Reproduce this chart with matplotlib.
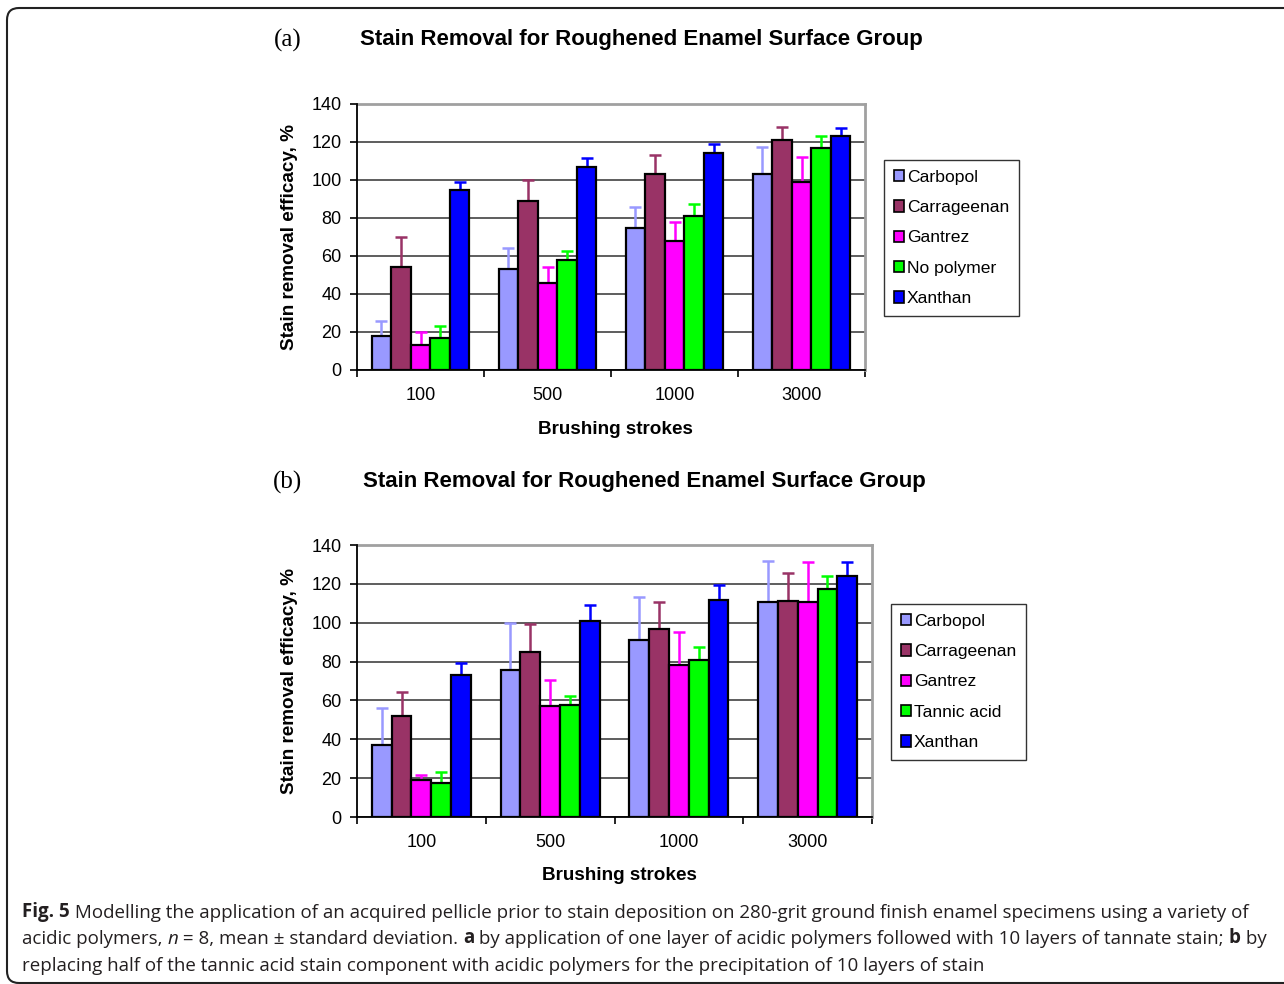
import matplotlib
matplotlib.use("Agg")
import matplotlib.pyplot as plt
import matplotlib.text as mtext
import numpy as np
from matplotlib.patches import FancyBboxPatch, Patch

# ---------------- data ----------------
strokes = ["100", "500", "1000", "3000"]

series_a = ["Carbopol", "Carrageenan", "Gantrez", "No polymer", "Xanthan"]
means_a = {
    "Carbopol":    [18, 53, 75, 103],
    "Carrageenan": [54, 89, 103, 121],
    "Gantrez":     [13, 46, 68, 99],
    "No polymer":  [17, 58, 81, 117],
    "Xanthan":     [95, 107, 114, 123],
}
sd_a = {
    "Carbopol":    [8, 11, 11, 14.5],
    "Carrageenan": [16, 11, 10, 7],
    "Gantrez":     [7, 8, 10, 13],
    "No polymer":  [6, 4.7, 6.6, 6],
    "Xanthan":     [4, 4.4, 4.7, 4.2],
}

series_b = ["Carbopol", "Carrageenan", "Gantrez", "Tannic acid", "Xanthan"]
means_b = {
    "Carbopol":    [37, 75.6, 91, 110.7],
    "Carrageenan": [52, 84.7, 96.7, 111.4],
    "Gantrez":     [18.8, 57.3, 78.2, 110.6],
    "Tannic acid": [17.5, 57.8, 81, 117.6],
    "Xanthan":     [73.3, 101, 111.6, 123.9],
}
sd_b = {
    "Carbopol":    [19.3, 24, 22, 21],
    "Carrageenan": [12.3, 14.5, 14, 14],
    "Gantrez":     [3, 13.2, 16.8, 20.4],
    "Tannic acid": [5.5, 4.6, 6.7, 6.2],
    "Xanthan":     [6, 7.9, 7.9, 7.4],
}

colors = ["#9999FF", "#993366", "#FF00FF", "#00FF00", "#0000FF"]
title_text = "Stain Removal for Roughened Enamel Surface Group"
ylabel_text = "Stain removal efficacy, %"
xlabel_text = "Brushing strokes"

caption_lines = [
    [("Fig. 5", "bold", "normal"),
     (" Modelling the application of an acquired pellicle prior to stain deposition on 280-grit ground finish enamel specimens using a variety of", "normal", "normal")],
    [("acidic polymers, ", "normal", "normal"), ("n", "normal", "italic"),
     (" = 8, mean \u00b1 standard deviation. ", "normal", "normal"), ("a", "bold", "normal"),
     (" by application of one layer of acidic polymers followed with 10 layers of tannate stain; ", "normal", "normal"),
     ("b", "bold", "normal"), (" by", "normal", "normal")],
    [("replacing half of the tannic acid stain component with acidic polymers for the precipitation of 10 layers of stain", "normal", "normal")],
]

SANS = ["Liberation Sans", "DejaVu Sans"]
SERIF = ["Liberation Serif", "DejaVu Serif"]
CAP = ["Open Sans", "DejaVu Sans"]

W, H = 1284, 984
fig = plt.figure(figsize=(W / 100, H / 100), dpi=100)
fig.patch.set_facecolor("white")


def fx(px):
    return px / W


def fy(py):
    return 1 - py / H


def panel(box, series, means, sds, legend_xy, title_y, letter, ylab_xy, xlab_xy, title_x):
    l, t, r, b = box
    ax = fig.add_axes([fx(l), fy(b), fx(r) - fx(l), fy(t) - fy(b)])
    n = len(series)
    w = 0.154
    x = np.arange(len(strokes))
    for j, s in enumerate(series):
        pos = x + (j - (n - 1) / 2) * w
        ax.bar(pos, means[s], width=w, color=colors[j], edgecolor="black",
               linewidth=1.6, zorder=3, label=s)
        ax.errorbar(pos, means[s], yerr=[np.zeros(len(x)), sds[s]], fmt="none",
                    ecolor=colors[j], elinewidth=1.8, capsize=4.5, capthick=1.8,
                    zorder=2)
    ax.set_xlim(-0.5, len(strokes) - 0.5)
    ax.set_ylim(0, 140)
    ax.set_yticks(np.arange(0, 141, 20))
    ax.yaxis.grid(True, color="#505050", linewidth=1.3, zorder=0)
    ax.set_axisbelow(True)
    ax.set_xticks(np.arange(-0.5, len(strokes), 1.0))
    ax.set_xticklabels([])
    ax.set_xticks(x, minor=True)
    ax.set_xticklabels(strokes, minor=True, fontsize=13, family=SANS)
    ax.tick_params(axis="x", which="minor", length=0, pad=12)
    ax.tick_params(axis="x", which="major", length=5, width=1.2, direction="out")
    ax.tick_params(axis="y", length=5, width=1.2, direction="out", pad=6, labelsize=13)
    for lab in ax.get_yticklabels():
        lab.set_family(SANS)
    ax.spines["top"].set_color("#A0A0A0")
    ax.spines["right"].set_color("#A0A0A0")
    ax.spines["top"].set_linewidth(2)
    ax.spines["right"].set_linewidth(2)
    ax.spines["left"].set_linewidth(1.3)
    ax.spines["bottom"].set_linewidth(1.3)
    ax.spines["left"].set_zorder(4)
    ax.spines["bottom"].set_zorder(4)

    handles = [Patch(facecolor=colors[j], edgecolor="black", linewidth=1.2, label=s)
               for j, s in enumerate(series)]
    leg = fig.legend(handles=handles, loc="upper left",
                     bbox_to_anchor=(fx(legend_xy[0]), fy(legend_xy[1])),
                     bbox_transform=fig.transFigure, borderaxespad=0,
                     fancybox=False, frameon=True, prop={"family": SANS, "size": 12.6},
                     handlelength=0.62, handleheight=0.62, handletextpad=0.15,
                     labelspacing=0.88, borderpad=0.55)
    leg.get_frame().set_edgecolor("black")
    leg.get_frame().set_linewidth(1.0)

    fig.text(fx(288), fy(title_y), letter, family=SERIF, fontsize=18,
             ha="center", va="center")
    fig.text(fx(title_x), fy(title_y), title_text, family=SANS, fontsize=16,
             fontweight="bold", ha="center", va="center")
    fig.text(fx(ylab_xy[0]), fy(ylab_xy[1]), ylabel_text, family=SANS, fontsize=13.6,
             fontweight="bold", rotation=90, ha="center", va="center")
    fig.text(fx(xlab_xy[0]), fy(xlab_xy[1]), xlabel_text, family=SANS, fontsize=13.6,
             fontweight="bold", ha="center", va="center")
    return ax


panel((357, 104, 865, 370), series_a, means_a, sd_a, (884, 160), 40, "(a)",
      (290, 237), (615, 430), 641)
panel((357, 545, 872, 817), series_b, means_b, sd_b, (891, 604), 482, "(b)",
      (290, 681), (619, 876), 644)

# rounded outer frame
frame = FancyBboxPatch((7, 1), 1300, 975, boxstyle="round,pad=0,rounding_size=12",
                       transform=None, facecolor="none", edgecolor="#222222",
                       linewidth=1.5, clip_on=False)
fig.patches.append(frame)

# caption: pieces chained left to right
cap_size = 13.5
line_y = [912, 939, 966]
for ly, pieces in zip(line_y, caption_lines):
    txt, wt, st = pieces[0]
    prev = fig.text(fx(22), fy(ly), txt, family=CAP, fontsize=cap_size,
                    fontweight=wt, fontstyle=st, ha="left", va="center",
                    color="#231F20")
    for txt, wt, st in pieces[1:]:
        prev = fig.add_artist(mtext.Annotation(
            txt.replace(" ", "\u00a0"), xy=(1, 0), xycoords=prev, xytext=(0, 0),
            textcoords="offset pixels", ha="left", va="bottom",
            family=CAP, fontsize=cap_size, fontweight=wt, fontstyle=st,
            color="#231F20"))

fig.savefig("out.png", dpi=100, facecolor="white")
